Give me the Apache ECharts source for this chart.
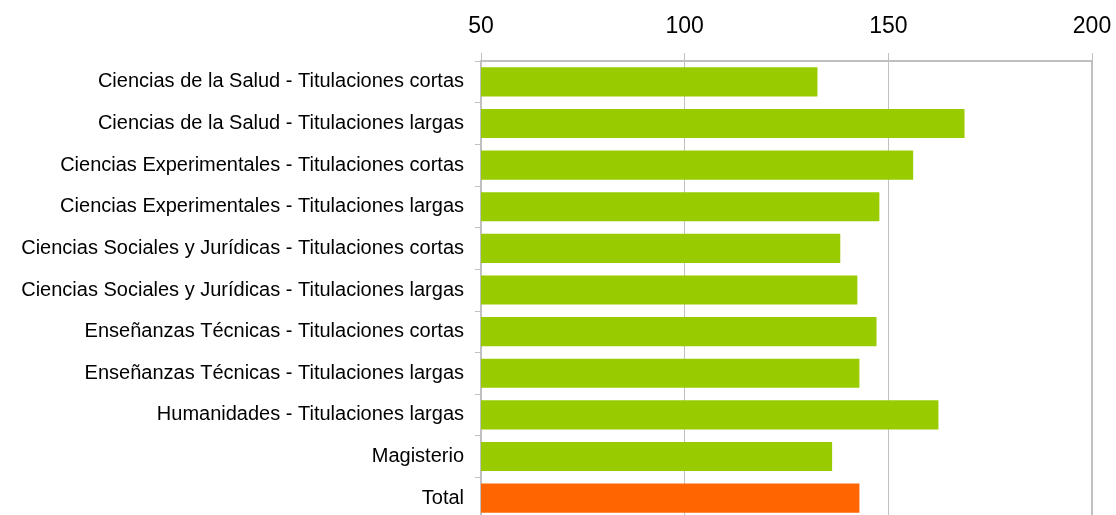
<!DOCTYPE html>
<html>
<head>
<meta charset="utf-8">
<script src="https://cdn.jsdelivr.net/npm/echarts@6/dist/echarts.min.js"></script>
<style>
  html, body { margin: 0; padding: 0; background: #fff; }
  #chart { width: 1116px; height: 515px; }
</style>
</head>
<body>
<div id="chart"></div>
<script>
const categories = [
  'Ciencias de la Salud - Titulaciones cortas',
  'Ciencias de la Salud - Titulaciones largas',
  'Ciencias Experimentales - Titulaciones cortas',
  'Ciencias Experimentales - Titulaciones largas',
  'Ciencias Sociales y Jurídicas - Titulaciones cortas',
  'Ciencias Sociales y Jurídicas - Titulaciones largas',
  'Enseñanzas Técnicas - Titulaciones cortas',
  'Enseñanzas Técnicas - Titulaciones largas',
  'Humanidades - Titulaciones largas',
  'Magisterio',
  'Total'
]
const values = [132.6, 168.7, 156.1, 147.8, 138.2, 142.4, 147.1, 142.9, 162.3, 136.2, 142.9]
const xTicks = [50, 200, 50] // min, max, interval

const chart = echarts.init(document.getElementById('chart'))

chart.setOption({
  animation: false,
  grid: {
    left: 481,
    right: 24,
    top: 61,
    height: 458, // plot runs a little past the bottom edge
    outerBoundsMode: 'none',
    show: true,
    borderColor: '#c0c0c0',
    borderWidth: 2
  },
  xAxis: {
    type: 'value',
    position: 'top',
    min: xTicks[0],
    max: xTicks[1],
    interval: xTicks[2],
    axisLine: { show: false },
    axisTick: { show: true, length: 8, lineStyle: { color: '#c0c0c0' } },
    axisLabel: {
      color: '#000',
      fontFamily: 'Liberation Sans',
      fontSize: 23,
      margin: 23
    },
    splitLine: { show: true, lineStyle: { color: '#c0c0c0', width: 1 } }
  },
  yAxis: {
    type: 'category',
    inverse: true,
    data: categories,
    axisLine: { show: true, lineStyle: { color: '#c0c0c0', width: 2 } },
    axisTick: { show: true, length: 6, lineStyle: { color: '#c0c0c0' } },
    axisLabel: {
      color: '#000',
      fontFamily: 'Liberation Sans',
      fontSize: 20,
      margin: 17
    }
  },
  series: [{
    type: 'bar',
    barCategoryGap: '30%',
    data: values.map((v, i) => ({
      value: v,
      itemStyle: { color: i === values.length - 1 ? '#ff6600' : '#99cc00' }
    }))
  }]
})
</script>
</body>
</html>
